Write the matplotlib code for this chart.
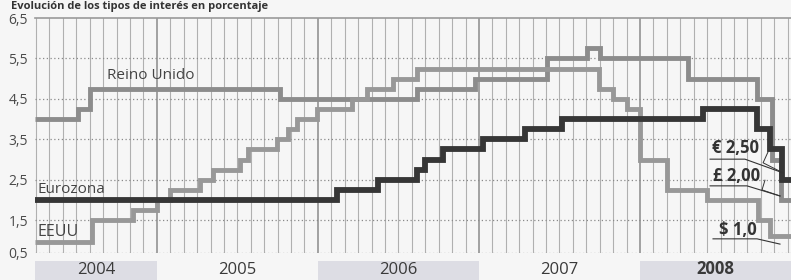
import matplotlib
matplotlib.use('Agg')
import matplotlib.pyplot as plt
from matplotlib.patches import Rectangle

plt.rcParams['font.family'] = ['Open Sans', 'DejaVu Sans']

# x axis: months since January 2004 (0 = Jan 2004)
x_start = 2.92
x_end = 59.25

uk_months = [2.92, 6.14, 7.02, 21.17, 31.36, 35.70, 41.05, 44.03, 45.02, 51.58, 56.72, 57.84, 58.5]
uk_rates = [4.0, 4.25, 4.75, 4.5, 4.75, 5.0, 5.5, 5.75, 5.5, 5.0, 4.5, 3.0, 2.0]

us_months = [2.92, 7.14, 10.24, 12.01, 12.98, 15.21, 16.18, 18.19, 18.79, 20.93, 21.79, 22.42,
             23.91, 26.52, 27.63, 29.62, 31.36, 44.95, 45.95, 47.01, 48.0, 49.99, 52.97, 56.79, 57.69]
us_rates = [0.95, 1.5, 1.75, 2.0, 2.25, 2.5, 2.75, 3.0, 3.25, 3.5, 3.75, 4.0,
            4.25, 4.5, 4.75, 5.0, 5.25, 4.75, 4.5, 4.25, 3.0, 2.25, 2.0, 1.5, 1.1]

ez_months = [2.92, 25.4, 28.5, 31.36, 31.98, 33.34, 36.32, 39.43, 42.17, 52.69, 56.72, 57.69, 58.55]
ez_rates = [2.0, 2.25, 2.5, 2.75, 3.0, 3.25, 3.5, 3.75, 4.0, 4.25, 3.75, 3.25, 2.5]

years = ['2004', '2005', '2006', '2007', '2008']
year_starts = [2.92, 12, 24, 36, 48]
year_ends = [12, 24, 36, 48, 59.25]
year_shaded = [True, False, True, False, True]

ytick_vals = [0.69, 1.5, 2.5, 3.5, 4.5, 5.5, 6.5]
ytick_labels = ['0,5', '1,5', '2,5', '3,5', '4,5', '5,5', '6,5']

W, H = 791, 280
fig = plt.figure(figsize=(W / 100, H / 100), dpi=100)
bg = '#f6f6f6'
fig.patch.set_facecolor(bg)
ax = fig.add_axes([35 / W, 1 - 253 / H, 1 - 35 / W, (253 - 18) / H])
ax.set_facecolor(bg)
ax.set_xlim(x_start, x_end)
ax.set_ylim(0.69, 6.5)

# grid
for m in range(3, 60):
    if m % 12 == 0:
        ax.axvline(m, color='#8a8a8a', lw=1.1, zorder=1)
    else:
        ax.axvline(m, color='#b0b0b0', lw=0.8, zorder=1)
for v in [1.5, 2.5, 3.5, 4.5, 5.5, 0.69]:
    ax.axhline(v, color='#8a8a8a', lw=0.9, ls=(0, (1, 2)), zorder=1)
ax.axhline(6.5, color='#9a9a9a', lw=1.2, zorder=1, clip_on=False)

for s in ax.spines.values():
    s.set_visible(False)


def stepline(xs, ys, **kw):
    ax.step(list(xs) + [x_end], list(ys) + [ys[-1]], where='post',
            solid_joinstyle='miter', solid_capstyle='butt', **kw)


stepline(uk_months, uk_rates, color='#8c8c8c', lw=3.5, zorder=3)
stepline(us_months, us_rates, color='#989898', lw=3.5, zorder=3)
stepline(ez_months, ez_rates, color='#363636', lw=4.2, zorder=4)

ax.set_yticks(ytick_vals)
ax.set_yticklabels(ytick_labels)
ax.set_xticks([])
ax.tick_params(axis='y', length=0, pad=5, labelsize=10, labelcolor='#4a4a4a')

tc = '#444444'
ax.text(8.28, 5.09, 'Reino Unido', fontsize=11, color=tc, ha='left', va='center', zorder=5)
ax.text(3.07, 2.27, 'Eurozona', fontsize=11, color=tc, ha='left', va='center', zorder=5)
ax.text(3.14, 1.21, 'EEUU', fontsize=11.5, color=tc, ha='left', va='center', zorder=5)

# year bands
trans = ax.get_xaxis_transform()
for y0, y1, lab, sh in zip(year_starts, year_ends, years, year_shaded):
    if sh:
        ax.add_patch(Rectangle((y0, -0.2), y1 - y0, 0.2 - 0.036, transform=trans,
                               facecolor='#dddde4', edgecolor='none', clip_on=False, zorder=0))
    fig.text(ax.transData.transform((0.5 * (y0 + y1), 1))[0] / W, 2.5 / H, lab,
             ha='center', va='bottom', fontsize=12, color='#3a3a3a',
             fontweight='bold' if lab == '2008' else 'normal')

# callouts at the right
ac = '#333333'


def callout(label, tx, ty, ux0, ux1, uy, tipx, tipy, notch):
    ax.text(tx, ty, label, ha='center', va='center', fontsize=12, fontweight='bold',
            color=ac, zorder=6)
    ax.plot([ux0, ux1, tipx], [uy, uy, tipy], color=ac, lw=0.8, zorder=6, clip_on=False)
    if notch:
        ax.plot([notch[0], notch[2], tipx], [notch[1], notch[3], tipy], color=ac, lw=0.7,
                zorder=6, clip_on=False)


callout('€ 2,50', 55.08, 3.29, 53.22, 55.82, 3.01, 58.66, 2.67, (57.54, 3.19, 57.17, 2.92))
callout('£ 2,00', 55.23, 2.59, 53.22, 55.97, 2.35, 58.43, 2.10, (57.31, 2.49, 57.09, 2.25))
callout('$ 1,0', 55.30, 1.26, 53.44, 56.72, 1.04, 58.43, 0.91, None)

fig.text(11 / W, 1 - 1 / H, 'Evolución de los tipos de interés en porcentaje',
         fontsize=8, fontweight='bold', color='#333333', ha='left', va='top')

fig.savefig('out.png', dpi=100, facecolor=bg)
